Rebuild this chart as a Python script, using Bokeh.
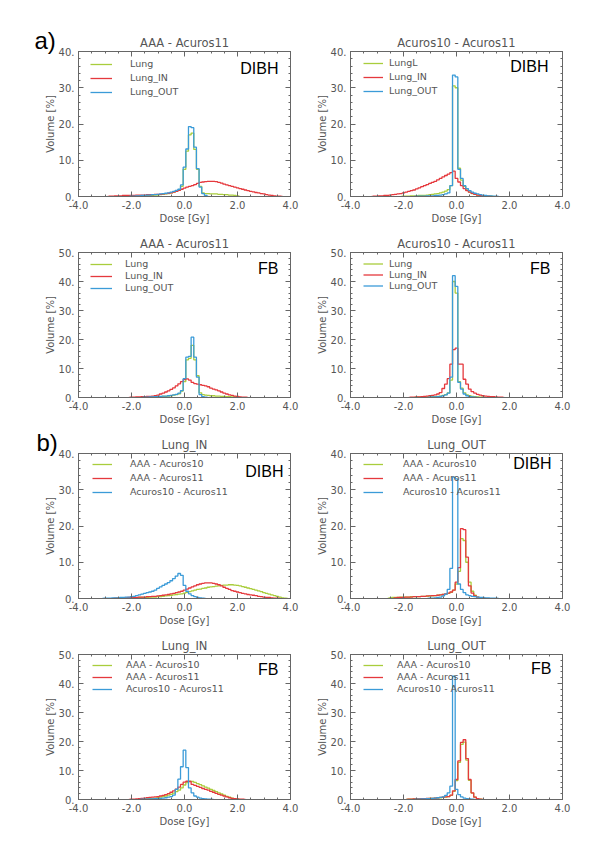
from bokeh.plotting import figure
from bokeh.models import (Range1d, LinearAxis, FixedTicker, PrintfTickFormatter,
                          CustomJSTickFormatter, Legend, LegendItem, Label, Spacer)
from bokeh.layouts import column, row
from bokeh.embed import file_html
from bokeh.resources import INLINE

BIN = 0.1  # Gy, histogram bin width (values below are bin heights, % volume)

# ---------------- a) DIBH : AAA - Acuros11 ----------------
p1_lung_start = -2.0
p1_lung = [0.1, 0.1, 0.1, 0.2, 0.2, 0.2, 0.3, 0.3, 0.3, 0.4,
           0.4, 0.5, 0.6, 0.7, 0.8, 1.0, 1.2, 1.5, 1.8,
           2.8,
           7.5, 12.5, 17.0, 17.5, 13.0, 7.5, 2.8, 1.0,
           0.8, 0.8, 0.7, 0.7, 0.7, 0.6, 0.6, 0.5, 0.5, 0.4, 0.4, 0.3, 0.2]
p1_in_start = -2.8
p1_in = [0.1, 0.1, 0.2, 0.2, 0.2, 0.3, 0.3, 0.3, 0.3,
         0.3, 0.4, 0.4, 0.4, 0.4, 0.5, 0.5, 0.5, 0.6, 0.6,
         0.6, 0.7, 0.8, 0.9, 1.0, 1.2, 1.4, 1.7, 2.0, 2.3,
         2.6, 2.8, 3.0, 3.3, 3.6, 3.9, 4.0, 4.1, 4.2, 4.2,
         4.2, 4.1, 3.9, 3.7, 3.4, 3.2, 3.0, 2.8, 2.6, 2.4,
         2.2, 2.0, 1.8, 1.6, 1.4, 1.3, 1.1, 1.0, 0.8, 0.7,
         0.5, 0.4, 0.3, 0.2, 0.1, 0.1]
p1_out_start = -2.0
p1_out = [0.1, 0.1, 0.2, 0.2, 0.3, 0.3, 0.4, 0.4, 0.5, 0.5,
          0.6, 0.7, 0.8, 0.9, 1.0, 1.2, 1.4, 1.7, 2.0,
          3.2,
          8.1, 13.1, 19.3, 19.0, 13.6, 7.7, 2.6, 0.8, 0.3]

# ---------------- a) DIBH : Acuros10 - Acuros11 ----------------
p2_lung_start = -2.0
p2_lung = [0.1, 0.1, 0.1, 0.2, 0.2, 0.2, 0.3, 0.3, 0.3, 0.4,
           0.5, 0.6, 0.7, 0.8, 1.0, 1.2, 1.5, 1.9,
           3.0, 30.5, 30.0,
           7.8, 4.5, 2.8, 1.8, 1.2, 0.8, 0.6, 0.4, 0.3, 0.2, 0.2, 0.1, 0.1]
p2_in_start = -3.1
p2_in = [0.1, 0.1, 0.2, 0.2, 0.3, 0.3, 0.4, 0.5, 0.6, 0.7,
         0.8, 1.0, 1.2, 1.4, 1.6, 1.8, 2.1, 2.4, 2.7, 3.0,
         3.3, 3.6, 3.9, 4.2, 4.6, 5.0, 5.4, 5.8, 6.2, 6.6,
         7.0, 5.0, 4.0, 3.0, 2.2, 1.6, 1.2, 0.9, 0.6, 0.4, 0.3, 0.2, 0.1, 0.1]
p2_out_start = -1.5
p2_out = [0.1, 0.1, 0.1, 0.1, 0.2, 0.2, 0.2, 0.3, 0.3, 0.4, 0.5, 0.7, 1.0,
          3.0, 33.5, 33.0,
          7.5, 5.0, 3.0, 2.2, 1.6, 1.2, 0.9, 0.7, 0.5, 0.4, 0.3, 0.2, 0.2, 0.1, 0.1]

# ---------------- a) FB : AAA - Acuros11 ----------------
p3_lung_start = -1.5
p3_lung = [0.1, 0.1, 0.1, 0.2, 0.2, 0.3, 0.3, 0.4, 0.4, 0.5, 0.6, 0.8, 1.0, 1.3,
           2.2, 5.5, 13.0, 13.5, 18.0, 13.0, 7.5, 1.6,
           1.0, 0.8, 0.7, 0.6, 0.6, 0.5, 0.5, 0.4, 0.4, 0.3, 0.3, 0.2, 0.2, 0.1]
p3_in_start = -2.0
p3_in = [0.1, 0.1, 0.2, 0.2, 0.3, 0.3, 0.4, 0.4, 0.5, 0.6,
         0.8, 1.2, 1.5, 1.9, 2.3, 2.8, 3.3, 4.0, 4.7, 5.5,
         6.2, 6.4, 6.0, 5.2, 4.8, 4.6, 4.4, 4.2, 4.0, 3.7,
         3.2, 2.9, 2.6, 2.3, 1.9, 1.5, 1.2, 0.9, 0.7, 0.5,
         0.4, 0.2, 0.1, 0.1]
p3_out_start = -1.5
p3_out = [0.1, 0.1, 0.2, 0.2, 0.3, 0.3, 0.4, 0.5, 0.5, 0.6, 0.7, 0.9, 1.1, 1.5,
          2.4, 6.5, 13.9, 14.2, 20.8, 13.9, 7.0, 1.0, 0.3, 0.1]

# ---------------- a) FB : Acuros10 - Acuros11 ----------------
p4_lung_start = -1.5
p4_lung = [0.1, 0.1, 0.1, 0.2, 0.2, 0.2, 0.3, 0.3, 0.4, 0.5, 0.7, 1.0, 1.6,
           6.0, 40.0, 36.0,
           5.5, 3.2, 1.6, 0.9, 0.6, 0.4, 0.3, 0.2, 0.1, 0.1]
p4_in_start = -1.7
p4_in = [0.1, 0.1, 0.2, 0.2, 0.3, 0.4, 0.5, 0.6, 0.7, 0.9,
         1.2, 1.7, 3.1, 4.6, 6.5, 11.5, 16.5, 17.0,
         11.5, 11.5, 6.3, 4.6, 2.9, 2.0, 1.5, 1.1, 0.8, 0.6,
         0.5, 0.4, 0.3, 0.3, 0.2, 0.1, 0.1]
p4_out_start = -1.0
p4_out = [0.1, 0.2, 0.2, 0.3, 0.4, 0.6, 0.9, 1.5,
          7.0, 42.0, 38.3,
          5.2, 2.9, 1.2, 0.6, 0.3, 0.2, 0.1]

# ---------------- b) DIBH : Lung_IN ----------------
p5_a10_start = -2.5
p5_a10 = [0.1, 0.1, 0.1, 0.1, 0.2, 0.2, 0.2, 0.2, 0.3, 0.3,
          0.3, 0.3, 0.4, 0.4, 0.4, 0.5, 0.5, 0.6, 0.7, 0.8,
          0.9, 1.0, 1.1, 1.2, 1.3, 1.5, 1.7, 1.9, 2.1, 2.3,
          2.5, 2.6, 2.8, 2.9, 3.1, 3.2, 3.3, 3.4, 3.5, 3.6,
          3.7, 3.7, 3.8, 3.8, 3.7, 3.6, 3.5, 3.3, 3.1, 2.9,
          2.7, 2.5, 2.3, 2.1, 1.9, 1.6, 1.4, 1.2, 1.0, 0.8,
          0.6, 0.4, 0.2, 0.1]
p5_a11_start = -2.6
p5_a11 = [0.1, 0.1, 0.2, 0.2, 0.2, 0.3, 0.3, 0.3, 0.3, 0.4,
          0.4, 0.4, 0.5, 0.5, 0.6, 0.6, 0.7, 0.8, 0.9, 1.0,
          1.1, 1.3, 1.4, 1.6, 1.8, 2.0, 2.3, 2.6, 2.9, 3.2,
          3.5, 3.8, 4.0, 4.2, 4.3, 4.3, 4.3, 4.2, 4.0, 3.8,
          3.5, 3.1, 2.8, 2.5, 2.2, 2.0, 1.8, 1.6, 1.4, 1.3,
          1.1, 1.0, 0.9, 0.8, 0.6, 0.5, 0.4, 0.3, 0.3, 0.2,
          0.1, 0.1]
p5_a1011_start = -3.0
p5_a1011 = [0.1, 0.1, 0.1, 0.2, 0.2, 0.2, 0.3, 0.3, 0.4, 0.4,
            0.5, 0.6, 0.8, 1.0, 1.2, 1.4, 1.6, 1.8, 2.0, 2.3,
            2.8, 3.2, 3.6, 4.0, 4.4, 4.9, 5.5, 6.2, 6.9, 6.4,
            3.6, 2.0, 1.3, 0.8, 0.5, 0.3, 0.2, 0.1]

# ---------------- b) DIBH : Lung_OUT ----------------
p6_a10_start = -2.5
p6_a10 = [0.2, 0.3, 0.3, 0.3, 0.4, 0.4, 0.4, 0.4, 0.5, 0.5,
          0.5, 0.5, 0.6, 0.6, 0.6, 0.7, 0.7, 0.8, 0.9, 1.0,
          1.1, 1.2, 1.4, 1.7, 2.3,
          4.0, 7.5, 16.5, 16.0, 10.0, 4.5, 2.0, 0.9, 0.4, 0.2, 0.1]
p6_a11_start = -2.3
p6_a11 = [0.2, 0.3, 0.3, 0.3, 0.4, 0.4, 0.4, 0.5, 0.5, 0.5,
          0.6, 0.6, 0.7, 0.7, 0.8, 0.8, 0.9, 1.0, 1.1, 1.3,
          1.5, 1.8, 2.3,
          4.5, 8.5, 19.3, 19.0, 11.4, 3.5, 1.5, 0.7, 0.4, 0.2, 0.1]
p6_a1011_start = -1.0
p6_a1011 = [0.1, 0.1, 0.2, 0.3, 0.4, 0.7, 1.2, 2.5,
            8.3, 33.5, 33.0,
            4.0, 2.5, 1.6, 1.0, 0.8, 0.6, 0.5, 0.4, 0.3, 0.3, 0.2, 0.2, 0.1, 0.1, 0.1]

# ---------------- b) FB : Lung_IN ----------------
p7_a10_start = -1.5
p7_a10 = [0.1, 0.2, 0.3, 0.4, 0.5, 0.6, 0.8, 1.0, 1.2, 1.5,
          1.8, 2.2, 2.7, 3.2, 4.0, 5.0, 5.8, 6.3, 6.2, 5.9,
          5.5, 5.1, 4.7, 4.3, 3.9, 3.5, 3.1, 2.7, 2.3, 1.9,
          1.5, 1.1, 0.8, 0.5, 0.3, 0.1]
p7_a11_start = -2.0
p7_a11 = [0.1, 0.1, 0.2, 0.3, 0.4, 0.5, 0.6, 0.7, 0.8, 0.9,
          1.0, 1.2, 1.4, 1.7, 2.0, 2.5, 3.0, 3.6, 4.3, 5.2,
          6.0, 6.3, 6.2, 5.2, 4.9, 4.5, 4.2, 3.8, 3.5, 3.2,
          2.8, 2.5, 2.1, 1.8, 1.5, 1.2, 0.9, 0.6, 0.4, 0.3,
          0.2, 0.1, 0.1]
p7_a1011_start = -1.6
p7_a1011 = [0.1, 0.1, 0.1, 0.2, 0.2, 0.3, 0.3, 0.4, 0.5, 0.6, 0.8, 1.0,
            1.5, 3.5, 7.0, 11.3, 17.0, 11.0, 4.0, 2.3, 1.2, 0.8, 0.5, 0.3, 0.2, 0.1, 0.1]

# ---------------- b) FB : Lung_OUT ----------------
p8_a10_start = -1.8
p8_a10 = [0.1, 0.1, 0.2, 0.2, 0.2, 0.3, 0.3, 0.3, 0.4, 0.4,
          0.5, 0.5, 0.6, 0.7, 0.8, 1.0, 1.4, 2.8,
          6.5, 12.8, 19.0, 19.8, 13.6, 6.6, 2.2, 0.8, 0.3, 0.1]
p8_a11_start = -1.8
p8_a11 = [0.1, 0.1, 0.2, 0.2, 0.2, 0.3, 0.3, 0.4, 0.4, 0.4,
          0.5, 0.6, 0.7, 0.8, 0.9, 1.0, 1.5, 3.0,
          6.9, 13.3, 19.7, 20.6, 14.1, 6.9, 2.3, 0.8, 0.3, 0.1]
p8_a1011_start = -1.5
p8_a1011 = [0.1, 0.1, 0.2, 0.2, 0.3, 0.3, 0.4, 0.5, 0.6, 0.7, 0.9, 1.4, 2.3,
            4.6, 42.5, 3.5, 1.7, 0.9, 0.5, 0.3, 0.2, 0.1]

titles = ["AAA - Acuros11", "Acuros10 - Acuros11", "AAA - Acuros11", "Acuros10 - Acuros11",
          "Lung_IN", "Lung_OUT", "Lung_IN", "Lung_OUT"]
ymaxes = [40, 40, 50, 50, 40, 40, 50, 50]
tags = ["DIBH", "DIBH", "FB", "FB", "DIBH", "DIBH", "FB", "FB"]
labels_a1 = ["Lung", "Lung_IN", "Lung_OUT"]
labels_a2 = ["LungL", "Lung_IN", "Lung_OUT"]
labels_b = ["AAA - Acuros10", "AAA - Acuros11", "Acuros10 - Acuros11"]
legend_labels = [labels_a1, labels_a2, labels_a1, labels_a1,
                 labels_b, labels_b, labels_b, labels_b]
series = [
    [(p1_lung_start, p1_lung), (p1_in_start, p1_in), (p1_out_start, p1_out)],
    [(p2_lung_start, p2_lung), (p2_in_start, p2_in), (p2_out_start, p2_out)],
    [(p3_lung_start, p3_lung), (p3_in_start, p3_in), (p3_out_start, p3_out)],
    [(p4_lung_start, p4_lung), (p4_in_start, p4_in), (p4_out_start, p4_out)],
    [(p5_a10_start, p5_a10), (p5_a11_start, p5_a11), (p5_a1011_start, p5_a1011)],
    [(p6_a10_start, p6_a10), (p6_a11_start, p6_a11), (p6_a1011_start, p6_a1011)],
    [(p7_a10_start, p7_a10), (p7_a11_start, p7_a11), (p7_a1011_start, p7_a1011)],
    [(p8_a10_start, p8_a10), (p8_a11_start, p8_a11), (p8_a1011_start, p8_a1011)],
]
x_ticks = [-4, -2, 0, 2, 4]
x_minor = [-4 + 0.5 * i for i in range(17)]

# ---------------- styling / layout (not data) ----------------
COLORS = ["#a9cd3c", "#e5393d", "#3b9bd8"]
AX = "#666666"
TXT = "#555555"
FW, FH = 212, 145          # frame size
COL_W = [300, 295]
COL_LEFT = [78, 50]
TOP, BOTTOM = 24, 32
TOP_SPACER = 51 - TOP
# legend: (x offset, first-row centre from top, row height, glyph width, standoff)
legend_geo = [(12, 12.5, 14, 22, 18), (13, 11.5, 14, 20, 6), (12, 11.5, 12, 22, 13), (13, 11.5, 11, 20, 6),
              (14, 10.5, 14, 20, 18), (13, 10.5, 14, 20, 20), (14, 10.5, 12, 20, 14), (13, 10.5, 12, 20, 14)]
# tag: (gap from right of frame, cap-top gap from frame top)
tag_geo = [(12, 11), (14, 9), (12, 10), (12, 10), (7, 12), (11, 4), (12, 9), (11, 8)]
letters = {0: "a)", 4: "b)"}
letter_x = {0: 14, 4: 16}


def step_xy(start, vals):
    xs = [round(start + (i - 1) * BIN, 3) for i in range(len(vals) + 2)]
    ys = [0.0] + list(vals) + [0.0]
    return xs, ys


def style_axis(ax, show_labels):
    ax.axis_line_color = AX
    ax.major_tick_line_color = AX
    ax.minor_tick_line_color = AX
    ax.major_tick_in = 5
    ax.major_tick_out = 0
    ax.minor_tick_in = 2
    ax.minor_tick_out = 0
    ax.major_label_text_font = "DejaVu Sans"
    ax.major_label_standoff = 0
    if show_labels:
        ax.major_label_text_color = TXT
        ax.major_label_text_font_size = "10px"
    else:
        ax.major_label_text_color = None
        ax.major_label_text_font_size = "1px"
        ax.formatter = CustomJSTickFormatter(code="return ''")
    ax.axis_label_text_font = "DejaVu Sans"
    ax.axis_label_text_font_size = "10px"
    ax.axis_label_text_font_style = "normal"
    ax.axis_label_text_color = TXT


def make_panel(k):
    col = k % 2
    left = COL_LEFT[col]
    width = COL_W[col]
    right = width - left - FW
    height = TOP + FH + BOTTOM
    ymax = ymaxes[k]
    p = figure(width=width, height=height, x_range=Range1d(-4, 4), y_range=Range1d(0, ymax),
               output_backend="svg", toolbar_location=None,
               x_axis_location=None, y_axis_location=None,
               min_border_left=left, min_border_right=right,
               min_border_top=TOP, min_border_bottom=BOTTOM)
    p.grid.visible = False
    p.outline_line_color = AX
    p.background_fill_color = "white"
    p.border_fill_color = "white"

    xt = FixedTicker(ticks=x_ticks, minor_ticks=x_minor)
    y_major = list(range(0, ymax + 1, 10))
    y_minor = list(range(0, ymax + 1, 2))
    yt = FixedTicker(ticks=y_major, minor_ticks=y_minor)

    xb = LinearAxis(ticker=xt, formatter=PrintfTickFormatter(format="%.1f"), axis_label="Dose [Gy]")
    style_axis(xb, True)
    xb.major_label_standoff = 4
    xb.axis_label_standoff = 1
    p.add_layout(xb, "below")
    xa = LinearAxis(ticker=xt)
    style_axis(xa, False)
    p.add_layout(xa, "above")
    yl = LinearAxis(ticker=yt, formatter=PrintfTickFormatter(format="%d."), axis_label="Volume [%]")
    style_axis(yl, True)
    yl.major_label_standoff = 4
    yl.axis_label_standoff = 0
    p.add_layout(yl, "left")
    yr = LinearAxis(ticker=yt)
    style_axis(yr, False)
    p.add_layout(yr, "right")

    p.title.text = titles[k]
    p.title.align = "center"
    p.title.text_font = "DejaVu Sans"
    p.title.text_font_size = "11.5px"
    p.title.text_font_style = "normal"
    p.title.text_color = TXT
    p.title.standoff = 3

    items = []
    for (start, vals), c, lab in zip(series[k], COLORS, legend_labels[k]):
        xs, ys = step_xy(start, vals)
        r = p.step(xs, ys, mode="center", line_color=c, line_width=1.3)
        items.append(LegendItem(label=lab, renderers=[r]))

    lx, c1, h, gw, so = legend_geo[k]
    leg_top = c1 - h / 2
    vy = FH - leg_top - 3 * h
    leg = Legend(items=items, location=(lx, vy), padding=0, margin=0, spacing=0,
                 glyph_width=gw, glyph_height=h, label_height=h, label_standoff=so,
                 label_text_font="DejaVu Sans", label_text_font_size="9.5px",
                 label_text_color=TXT, border_line_color=None,
                 background_fill_alpha=0)
    p.add_layout(leg)

    rg, tg = tag_geo[k]
    p.add_layout(Label(x=FW - rg, y=FH - (tg - 3), x_units="screen", y_units="screen",
                       text=tags[k], text_align="right", text_baseline="top",
                       text_font="Liberation Sans", text_font_size="16px", text_color="black"))
    if k in letters:
        # placed in the left side panel so it is not clipped to the plot frame
        p.add_layout(Label(x=letter_x[k], y=FH + 11, x_units="screen", y_units="screen",
                           text=letters[k], text_align="left", text_baseline="alphabetic",
                           text_font="Liberation Sans", text_font_size="24px", text_color="black"),
                     "left")
    return p


panels = [make_panel(k) for k in range(8)]
layout = column(Spacer(width=595, height=TOP_SPACER),
                *[row(panels[2 * i], panels[2 * i + 1]) for i in range(4)])

with open("out.html", "w") as f:
    f.write(file_html(layout, INLINE))
